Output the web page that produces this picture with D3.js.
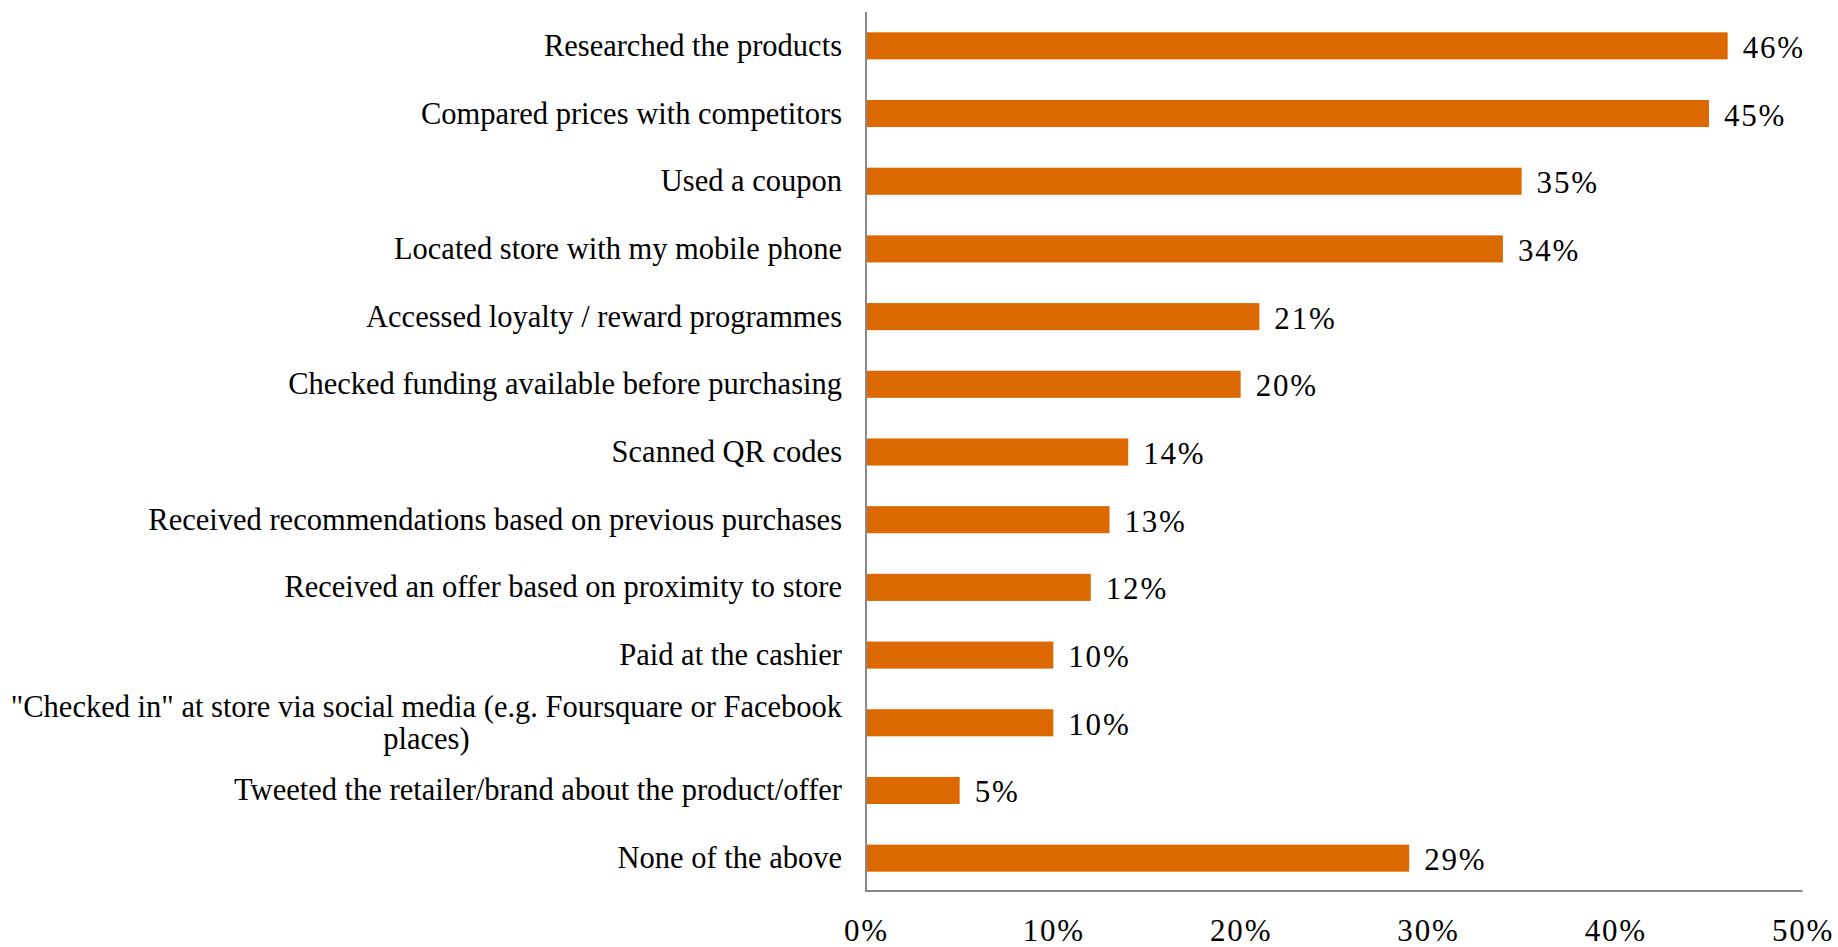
<!DOCTYPE html>
<html>
<head>
<meta charset="utf-8">
<script src="https://cdn.jsdelivr.net/npm/d3@7"></script>
<style>
  html, body { margin: 0; padding: 0; background: #ffffff; }
  svg { display: block; }
  text { font-family: "Liberation Serif", "DejaVu Serif", serif; fill: #000000; }
</style>
</head>
<body>
<svg id="chart" width="1838" height="947"></svg>
<script>
// Survey answers, top to bottom; "\n" marks a manual line break in a label
const categories = [
  "Researched the products",
  "Compared prices with competitors",
  "Used a coupon",
  "Located store with my mobile phone",
  "Accessed loyalty / reward programmes",
  "Checked funding available before purchasing",
  "Scanned QR codes",
  "Received recommendations based on previous purchases",
  "Received an offer based on proximity to store",
  "Paid at the cashier",
  "\"Checked in\" at store via social media (e.g. Foursquare or Facebook\nplaces)",
  "Tweeted the retailer/brand about the product/offer",
  "None of the above"
];
const values = [46, 45, 35, 34, 21, 20, 14, 13, 12, 10, 10, 5, 29];
const xTicks = [0, 10, 20, 30, 40, 50];

const svg = d3.select("#chart");
const plot = { left: 866, right: 1802.6, top: 12, bottom: 892 };
const fontSize = 30.5;
const numSize = 31;
const numSpacing = 1.8;

const x = d3.scaleLinear().domain([0, 50]).range([plot.left, plot.right]);
const y = d3.scaleBand()
  .domain(categories)
  .range([plot.top, plot.bottom])
  .paddingInner(0.6)
  .paddingOuter(0.3);

// Bars
svg.append("g")
  .selectAll("rect")
  .data(values)
  .join("rect")
  .attr("x", x(0))
  .attr("y", (d, i) => y(categories[i]))
  .attr("width", d => x(d) - x(0))
  .attr("height", y.bandwidth())
  .attr("fill", "#DC6900");

// Value labels at the bar ends
svg.append("g")
  .selectAll("text")
  .data(values)
  .join("text")
  .attr("x", d => x(d) + 15)
  .attr("y", (d, i) => y(categories[i]) + y.bandwidth() / 2 + 12)
  .attr("font-size", numSize)
  .attr("letter-spacing", numSpacing)
  .text(d => d + "%");

// Category axis: plain vertical line, labels right-aligned; wrapped labels are centred
const yAxis = d3.axisLeft(y).tickSize(0).tickPadding(24).tickFormat("");
const gy = svg.append("g").attr("transform", `translate(${plot.left},0)`).call(yAxis);
gy.select(".domain").attr("stroke", "#898989").attr("stroke-width", 2).attr("d", `M0,${plot.top}V${plot.bottom}`);

const catLabels = svg.append("g");
categories.forEach(c => {
  const lines = c.split("\n");
  const cy = y(c) + y.bandwidth() / 2;
  const labelRight = plot.left - 24;
  if (lines.length === 1) {
    catLabels.append("text")
      .attr("x", labelRight)
      .attr("y", cy + 10)
      .attr("text-anchor", "end")
      .attr("font-size", fontSize)
      .text(c);
  } else {
    const lineH = 32;
    const t = catLabels.append("text")
      .attr("font-size", fontSize)
      .attr("text-anchor", "middle");
    const first = t.append("tspan").text(lines[0]);
    const w = first.node().getComputedTextLength();
    const cx = labelRight - w / 2;
    const y0 = cy + 10 - (lines.length - 1) * lineH / 2;
    t.selectAll("tspan").remove();
    lines.forEach((ln, k) => {
      t.append("tspan").attr("x", cx).attr("y", y0 + k * lineH).text(ln);
    });
  }
});

// Value axis along the bottom
const xAxis = d3.axisBottom(x).tickValues(xTicks).tickSize(0).tickPadding(0).tickFormat(d => d + "%");
const gx = svg.append("g").attr("transform", `translate(0,${plot.bottom - 1})`).call(xAxis);
gx.select(".domain").attr("stroke", "#898989").attr("stroke-width", 2).attr("d", `M${plot.left},0H${plot.right}`);
gx.selectAll(".tick text")
  .attr("font-family", "Liberation Serif, DejaVu Serif, serif")
  .attr("font-size", numSize)
  .attr("letter-spacing", numSpacing)
  .attr("fill", "#000")
  .attr("dy", null)
  .attr("y", 50);
</script>
</body>
</html>
